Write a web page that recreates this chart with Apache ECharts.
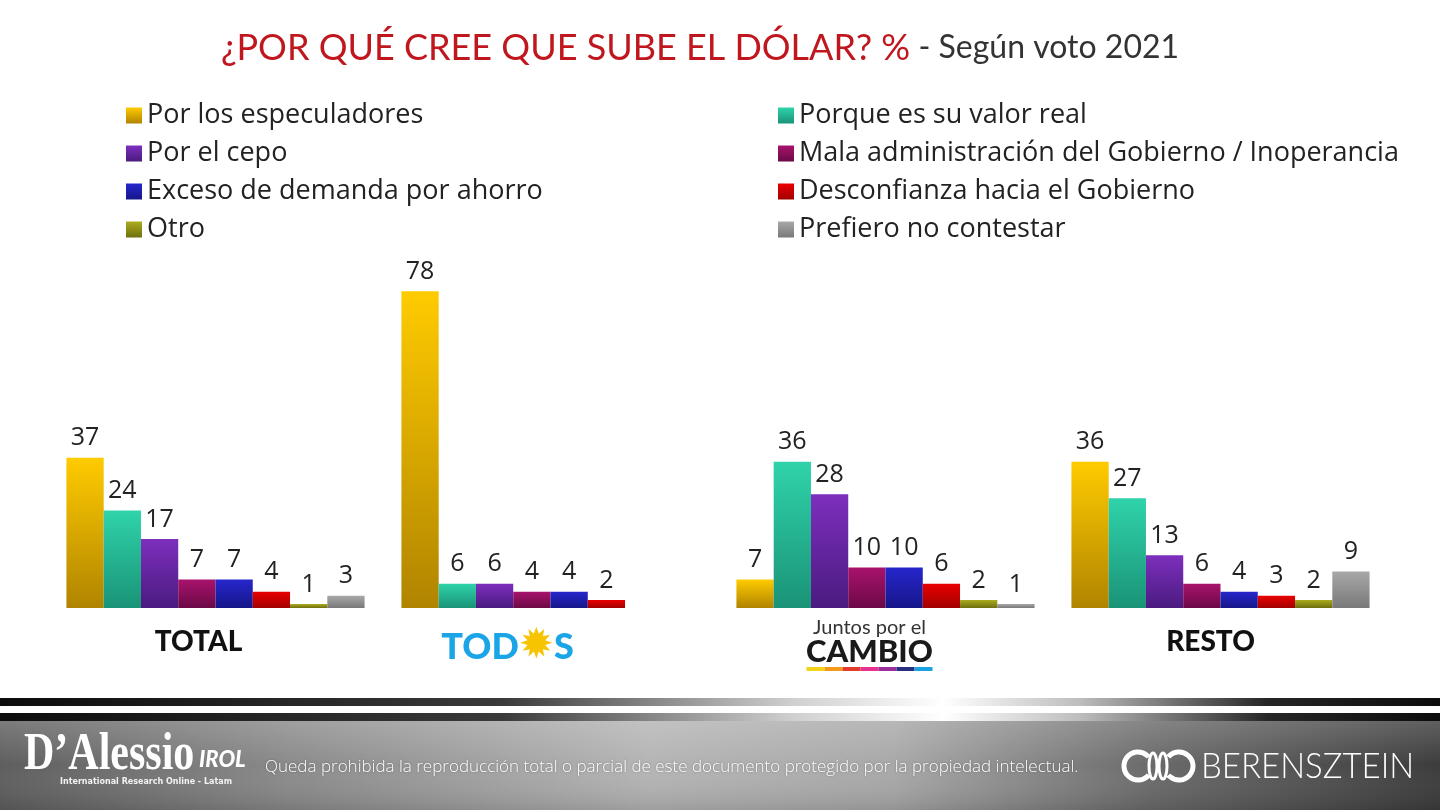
<!DOCTYPE html>
<html>
<head>
<meta charset="utf-8">
<script src="https://cdn.jsdelivr.net/npm/echarts@6/dist/echarts.min.js"></script>
<style>
  html, body { margin: 0; padding: 0; background: #fff; }
  #chart { width: 1440px; height: 810px; }
</style>
</head>
<body>
<div id="chart"></div>
<script>
// categorias (grupos de voto 2021)
var categories = ['TOTAL', 'TODOS', 'JXC', 'RESTO'];

// series (en el orden de las barras)
var seriesNames = [
    'Por los especuladores',
    'Porque es su valor real',
    'Por el cepo',
    'Mala administración del Gobierno / Inoperancia',
    'Exceso de demanda por ahorro',
    'Desconfianza hacia el Gobierno',
    'Otro',
    'Prefiero no contestar'
];

var especuladores = [37, 78, 7, 36];
var valorReal     = [24, 6, 36, 27];
var cepo          = [17, 6, 28, 13];
var malaAdmin     = [7, 4, 10, 6];
var exceso        = [7, 4, 10, 4];
var desconfianza  = [4, 2, 6, 3];
var otro          = [1, '-', 2, 2];
var prefiero      = [3, '-', 1, 9];

var values = [especuladores, valorReal, cepo, malaAdmin, exceso, desconfianza, otro, prefiero];

// colores arriba / abajo del degradado
var topColors    = ['#ffcb00', '#2fd3aa', '#7d2fbd', '#a8136c', '#2626cc', '#ea0000', '#acac20', '#a8a8a8'];
var bottomColors = ['#b08400', '#1a9377', '#4a1b80', '#6c0946', '#16168a', '#a20000', '#6e6f0e', '#797979'];

function grad(i) {
    return {
        type: 'linear', x: 0, y: 0, x2: 0, y2: 1,
        colorStops: [
            { offset: 0, color: topColors[i] },
            { offset: 1, color: bottomColors[i] }
        ]
    };
}

var FONT = 'Lato, "Noto Sans", sans-serif';
var WIDE = '"Open Sans", "Noto Sans", sans-serif';

var series = [];
for (var i = 0; i < seriesNames.length; i++) {
    series.push({
        name: seriesNames[i],
        type: 'bar',
        data: values[i],
        barGap: 0,
        barCategoryGap: '11%',
        itemStyle: { color: grad(i) },
        label: {
            show: true,
            position: 'top',
            distance: 7,
            color: '#222',
            fontSize: 25,
            fontFamily: WIDE
        }
    });
}

var leftNames = [seriesNames[0], seriesNames[2], seriesNames[4], seriesNames[6]];
var rightNames = [seriesNames[1], seriesNames[3], seriesNames[5], seriesNames[7]];

var legendBase = {
    orient: 'vertical',
    top: 97,
    itemWidth: 16,
    itemHeight: 16,
    itemGap: 11,
    icon: 'rect',
    selectedMode: false,
    textStyle: { fontSize: 27, color: '#222', fontFamily: WIDE, lineHeight: 26 }
};

var lineColors = ['#f4d21a', '#f39a1b', '#e43a2c', '#e7318f', '#9b2f9a', '#27307f', '#1aa3e3'];
var lineRich = {};
var lineStr = '';
for (var k = 0; k < lineColors.length; k++) {
    lineRich['c' + k] = { backgroundColor: lineColors[k], width: 18, height: 4, fontSize: 2, lineHeight: 8 };
    lineStr += '{c' + k + '| }';
}

var labelRich = {
    tot: { fontSize: 28, fontWeight: 900, color: '#111', fontFamily: FONT },
    todo: { fontSize: 36, fontWeight: 900, color: '#1ca5e6', fontFamily: FONT },
    sun: { fontSize: 42, color: '#f6c400', fontFamily: '"DejaVu Sans"' },
    jt: { fontSize: 20, color: '#333', fontFamily: FONT, lineHeight: 20 },
    cb: { fontSize: 31, fontWeight: 900, color: '#1a1a1a', fontFamily: FONT, lineHeight: 27 }
};
for (var key in lineRich) labelRich[key] = lineRich[key];

var axisData = [
    { value: categories[0], textStyle: { padding: [10, 34, 0, 0] } },
    { value: categories[1], textStyle: { padding: [8, 86, 0, 0] } },
    { value: categories[2], textStyle: { padding: [0, 32, 0, 0] } },
    { value: categories[3], textStyle: { padding: [10, 20, 0, 0] } }
];

function bandGrad(stops) {
    return {
        type: 'linear', x: 0, y: 0, x2: 1, y2: 0,
        colorStops: stops
    };
}

var stripeStops = [
    { offset: 0, color: '#0c0c0c' },
    { offset: 0.35, color: '#3a3a3a' },
    { offset: 0.55, color: '#cfcfcf' },
    { offset: 0.655, color: '#ffffff' },
    { offset: 0.75, color: '#bdbdbd' },
    { offset: 0.88, color: '#262626' },
    { offset: 1, color: '#0c0c0c' }
];

var option = {
    backgroundColor: '#ffffff',
    animation: false,
    title: {
        left: 216,
        top: 25,
        text: '{r|¿POR QUÉ CREE QUE SUBE EL DÓLAR? %}{g| - Según voto 2021}',
        textStyle: {
            fontWeight: 'normal',
            rich: {
                r: { fontSize: 36, color: '#c0161e', fontFamily: FONT, fontWeight: 'normal' },
                g: { fontSize: 32, color: '#333', fontFamily: FONT, fontWeight: 'normal' }
            }
        }
    },
    legend: [
        Object.assign({}, legendBase, { left: 121, data: leftNames }),
        Object.assign({}, legendBase, { left: 773, data: rightNames })
    ],
    grid: { left: 48, right: 52, top: 283, bottom: 202 },
    xAxis: {
        type: 'category',
        data: axisData,
        axisLine: { show: false },
        axisTick: { show: false },
        axisLabel: {
            interval: 0,
            margin: 10,
            formatter: function (v) {
                if (v === 'TOTAL') return '{tot|TOTAL}';
                if (v === 'RESTO') return '{tot|RESTO}';
                if (v === 'TODOS') return '{todo|TOD}{sun|✹}{todo|S}';
                return '{jt|Juntos por el}\n{cb|CAMBIO}\n' + lineStr;
            },
            rich: labelRich
        }
    },
    yAxis: {
        type: 'value',
        min: 0,
        max: 80,
        show: false,
        splitLine: { show: false }
    },
    series: series,
    graphic: [
        { type: 'rect', shape: { x: 0, y: 698, width: 1440, height: 8 }, style: { fill: bandGrad(stripeStops) } },
        { type: 'rect', shape: { x: 0, y: 713, width: 1440, height: 8 }, style: { fill: bandGrad(stripeStops) } },
        {
            type: 'rect', shape: { x: 0, y: 721, width: 1440, height: 89 },
            style: {
                fill: bandGrad([
                    { offset: 0, color: '#5e5e5e' },
                    { offset: 0.2, color: '#8a8a8a' },
                    { offset: 0.45, color: '#b4b4b4' },
                    { offset: 0.62, color: '#a8a8a8' },
                    { offset: 0.8, color: '#6a6a6a' },
                    { offset: 1, color: '#3c3c3c' }
                ])
            }
        },
        {
            type: 'rect', shape: { x: 0, y: 721, width: 1440, height: 89 },
            style: {
                fill: {
                    type: 'linear', x: 0, y: 0, x2: 0, y2: 1,
                    colorStops: [
                        { offset: 0, color: 'rgba(255,255,255,0.18)' },
                        { offset: 0.5, color: 'rgba(255,255,255,0)' },
                        { offset: 1, color: 'rgba(0,0,0,0.12)' }
                    ]
                }
            }
        },
        // logo D'Alessio IROL
        {
            type: 'text', x: 24, y: 782, scaleY: 1.25,
            style: { text: "D’Alessio", fill: '#fff', font: 'bold 42px "Liberation Serif"', textVerticalAlign: 'bottom' }
        },
        {
            type: 'text', x: 199, y: 771,
            style: { text: 'IROL', fill: '#fff', font: 'italic 900 22px Lato', textVerticalAlign: 'bottom' }
        },
        {
            type: 'text', x: 60, y: 782,
            style: { text: 'International Research Online - Latam', fill: '#f2f2f2', font: 'bold 8px "DejaVu Sans"', textVerticalAlign: 'middle' }
        },
        {
            type: 'text', x: 265, y: 767,
            style: {
                text: 'Queda prohibida la reproducción total o parcial de este documento protegido por la propiedad intelectual.',
                fill: '#ffffff', font: '300 17px "Open Sans"', textVerticalAlign: 'middle',
                textShadowColor: 'rgba(0,0,0,0.35)', textShadowBlur: 2
            }
        },
        // logo BERENSZTEIN
        { type: 'arc', shape: { cx: 1138, cy: 766, r: 14, startAngle: 0.7, endAngle: Math.PI * 2 - 0.7 }, style: { stroke: '#fff', lineWidth: 5, fill: null } },
        { type: 'ellipse', shape: { cx: 1153, cy: 766, rx: 4, ry: 13 }, style: { stroke: '#fff', lineWidth: 3, fill: null } },
        { type: 'ellipse', shape: { cx: 1163, cy: 766, rx: 4, ry: 13 }, style: { stroke: '#fff', lineWidth: 3, fill: null } },
        { type: 'arc', shape: { cx: 1179, cy: 766, r: 14, startAngle: Math.PI + 0.7, endAngle: Math.PI - 0.7 }, style: { stroke: '#fff', lineWidth: 5, fill: null } },
        {
            type: 'text', x: 1201, y: 766, scaleY: 1.1,
            style: { text: 'BERENSZTEIN', fill: '#fff', font: '300 33px Lato', textVerticalAlign: 'middle' }
        }
    ]
};

var chart = echarts.init(document.getElementById('chart'));
chart.setOption(option);
</script>
</body>
</html>
